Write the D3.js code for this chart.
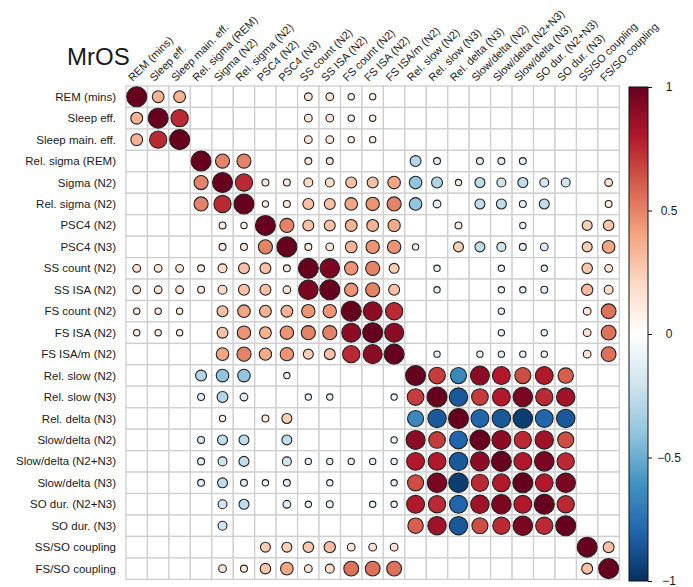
<!DOCTYPE html>
<html>
<head>
<meta charset="utf-8">
<script src="https://cdn.jsdelivr.net/npm/d3@7"></script>
<style>
  body { margin: 0; background: #fff; }
  text { font-family: "Liberation Sans", Arial, sans-serif; fill: #1a1a1a; }
</style>
</head>
<body>
<svg id="corr" width="693" height="587"></svg>
<script>
// variable names, same order for rows and columns
var labels = ['REM (mins)', 'Sleep eff.', 'Sleep main. eff.', 'Rel. sigma (REM)', 'Sigma (N2)',
  'Rel. sigma (N2)', 'PSC4 (N2)', 'PSC4 (N3)', 'SS count (N2)', 'SS ISA (N2)', 'FS count (N2)',
  'FS ISA (N2)', 'FS ISA/m (N2)', 'Rel. slow (N2)', 'Rel. slow (N3)', 'Rel. delta (N3)',
  'Slow/delta (N2)', 'Slow/delta (N2+N3)', 'Slow/delta (N3)', 'SO dur. (N2+N3)', 'SO dur. (N3)',
  'SS/SO coupling', 'FS/SO coupling']

// correlation matrix, 0 = not significant (cell left empty)
var corr = [
  [1, .35, .35, 0, 0, 0, 0, 0, .15, .15, .1, .1, 0, 0, 0, 0, 0, 0, 0, 0, 0, 0, 0],
  [.35, 1, .75, 0, 0, 0, 0, 0, .15, .15, .1, .1, 0, 0, 0, 0, 0, 0, 0, 0, 0, 0, 0],
  [.35, .75, 1, 0, 0, 0, 0, 0, .15, .15, .1, .1, 0, 0, 0, 0, 0, 0, 0, 0, 0, 0, 0],
  [0, 0, 0, 1, .5, .5, 0, 0, .12, .12, 0, 0, 0, -.3, -.12, 0, -.12, -.12, -.12, 0, 0, 0, 0],
  [0, 0, 0, .5, 1, .75, .12, .12, .2, .2, .3, .3, .4, -.4, -.3, .1, -.25, -.2, -.25, -.2, -.2, 0, .15],
  [0, 0, 0, .5, .75, 1, .1, .12, .3, .3, .4, .45, .5, -.4, -.15, 0, -.25, -.25, -.12, -.25, 0, 0, .12],
  [0, 0, 0, 0, .12, .1, 1, .5, .3, .3, .35, .35, .38, 0, 0, .12, 0, 0, -.1, 0, 0, .25, .28],
  [0, 0, 0, 0, .12, .12, .5, 1, .12, .15, .35, .45, .45, -.1, 0, .25, -.25, -.2, -.12, -.15, 0, .25, .4],
  [.15, .15, .15, .12, .2, .3, .3, .12, 1, .95, .45, .5, .25, 0, -.1, 0, 0, -.1, 0, -.1, 0, .28, .15],
  [.15, .15, .15, .12, .2, .3, .3, .15, .95, 1, .45, .5, .3, 0, -.1, 0, 0, -.1, -.1, -.12, 0, .32, .2],
  [.1, .1, .1, 0, .3, .4, .35, .35, .45, .45, 1, .9, .75, 0, 0, 0, 0, -.1, 0, 0, 0, .15, .55],
  [.1, .1, .1, 0, .3, .45, .35, .45, .5, .5, .9, 1, .9, 0, 0, 0, 0, -.1, 0, -.1, 0, .15, .55],
  [0, 0, 0, 0, .4, .5, .38, .45, .25, .3, .75, .9, 1, 0, -.1, 0, -.1, -.1, -.1, -.1, 0, .15, .55],
  [0, 0, 0, -.3, -.4, -.4, 0, -.1, 0, 0, 0, 0, 0, 1, .7, -.65, .9, .8, .65, .8, .6, 0, 0],
  [0, 0, 0, -.12, -.3, -.15, 0, 0, -.1, -.1, 0, 0, -.1, .7, 1, -.85, .7, .8, .95, .75, .85, 0, 0],
  [0, 0, 0, 0, .1, 0, .12, .25, 0, 0, 0, 0, 0, -.65, -.85, 1, -.8, -.85, -.95, -.8, -.85, 0, 0],
  [0, 0, 0, -.12, -.25, -.25, 0, -.25, 0, 0, 0, 0, -.1, .9, .7, -.8, 1, .9, .75, .85, .65, 0, 0],
  [0, 0, 0, -.12, -.2, -.25, 0, -.2, -.1, -.1, -.1, -.1, -.1, .8, .8, -.85, .9, 1, .8, .95, .75, 0, 0],
  [0, 0, 0, -.12, -.25, -.12, -.1, -.12, 0, -.1, 0, 0, -.1, .65, .95, -.95, .75, .8, 1, .8, .95, 0, 0],
  [0, 0, 0, 0, -.2, -.25, 0, -.15, -.1, -.12, 0, -.1, -.1, .8, .75, -.8, .85, .95, .8, 1, .75, 0, 0],
  [0, 0, 0, 0, -.2, 0, 0, 0, 0, 0, 0, 0, 0, .6, .85, -.85, .65, .75, .95, .75, 1, 0, 0],
  [0, 0, 0, 0, 0, 0, .25, .25, .28, .32, .15, .15, .15, 0, 0, 0, 0, 0, 0, 0, 0, 1, .3],
  [0, 0, 0, 0, .15, .12, .28, .4, .15, .2, .55, .55, .55, 0, 0, 0, 0, 0, 0, 0, 0, .3, 1]
]

// RdBu palette (corrplot style), from +1 down to -1
var colorStops = ['#67001F', '#B2182B', '#D6604D', '#F4A582', '#FDDBC7', '#FFFFFF',
  '#D1E5F0', '#92C5DE', '#4393C3', '#2166AC', '#053061']
var stopValues = [1, .8, .6, .4, .2, 0, -.2, -.4, -.6, -.8, -1]
var legendTicks = [1, 0.5, 0, -0.5, -1]

var x0 = 126, y0 = 86, cell = 21.45
var n = labels.length

var svg = d3.select('#corr')

var x = d3.scaleBand().domain(d3.range(n)).range([x0, x0 + n * cell])
var y = d3.scaleBand().domain(d3.range(n)).range([y0, y0 + n * cell])
var color = d3.scaleLinear().domain(stopValues).range(colorStops)
var rMax = cell * 0.465

// flatten matrix into cells
var cells = []
corr.forEach(function (row, i) {
    row.forEach(function (v, j) {
        cells.push({ i: i, j: j, v: v })
    })
})

// grid
svg.append('g')
    .selectAll('rect')
    .data(cells)
    .enter().append('rect')
    .attr('x', function (d) { return x(d.j) })
    .attr('y', function (d) { return y(d.i) })
    .attr('width', x.bandwidth())
    .attr('height', y.bandwidth())
    .attr('fill', 'white')
    .attr('stroke', '#cfcfcf')
    .attr('stroke-width', 1.3)

// circles, area proportional to |r|
svg.append('g')
    .selectAll('circle')
    .data(cells.filter(function (d) { return d.v !== 0 }))
    .enter().append('circle')
    .attr('cx', function (d) { return x(d.j) + x.bandwidth() / 2 })
    .attr('cy', function (d) { return y(d.i) + y.bandwidth() / 2 })
    .attr('r', function (d) { return rMax * Math.sqrt(Math.abs(d.v)) })
    .attr('fill', function (d) { return color(d.v) })
    .attr('stroke', '#222')
    .attr('stroke-width', 1.1)

// row labels
svg.append('g')
    .selectAll('text')
    .data(labels)
    .enter().append('text')
    .attr('x', x0 - 10)
    .attr('y', function (d, i) { return y(i) + y.bandwidth() / 2 })
    .attr('dy', '0.35em')
    .attr('text-anchor', 'end')
    .style('font-size', '11.5px')
    .text(function (d) { return d })

// column labels, rotated 45 degrees
svg.append('g')
    .selectAll('text')
    .data(labels)
    .enter().append('text')
    .attr('transform', function (d, i) {
        return 'translate(' + (x(i) + x.bandwidth() / 2 - 4) + ',' + (y0 - 4) + ') rotate(-45)'
    })
    .attr('text-anchor', 'start')
    .style('font-size', '11px')
    .text(function (d) { return d })

// title
svg.append('text')
    .attr('x', 67)
    .attr('y', 65)
    .style('font-size', '24px')
    .text('MrOS')

// colour bar
var barX = 629, barW = 19, barTop = 87, barBottom = 581
var defs = svg.append('defs')
var grad = defs.append('linearGradient')
    .attr('id', 'cbar')
    .attr('x1', 0).attr('y1', 0).attr('x2', 0).attr('y2', 1)
grad.selectAll('stop')
    .data(stopValues)
    .enter().append('stop')
    .attr('offset', function (d) { return (1 - d) / 2 })
    .attr('stop-color', function (d) { return color(d) })

svg.append('rect')
    .attr('x', barX)
    .attr('y', barTop)
    .attr('width', barW)
    .attr('height', barBottom - barTop)
    .attr('fill', 'url(#cbar)')
    .attr('stroke', '#111')
    .attr('stroke-width', 1)

var yBar = d3.scaleLinear().domain([-1, 1]).range([barBottom, barTop])

var legendAxis = d3.axisRight(yBar)
    .tickValues(legendTicks)
    .tickSize(4)
    .tickFormat(function (d) { return d === 0 ? '0' : d3.format('')(d).replace('-', '\u2212') })

var ax = svg.append('g')
    .attr('transform', 'translate(' + (barX + barW) + ',0)')
    .call(legendAxis)
ax.select('.domain').remove()
ax.selectAll('line').attr('stroke', '#111')
ax.selectAll('text')
    .attr('x', 21)
    .attr('text-anchor', 'middle')
    .style('font-size', '12px')
    .style('font-family', '"Liberation Sans", Arial, sans-serif')
    .attr('fill', '#1a1a1a')
</script>
</body>
</html>
